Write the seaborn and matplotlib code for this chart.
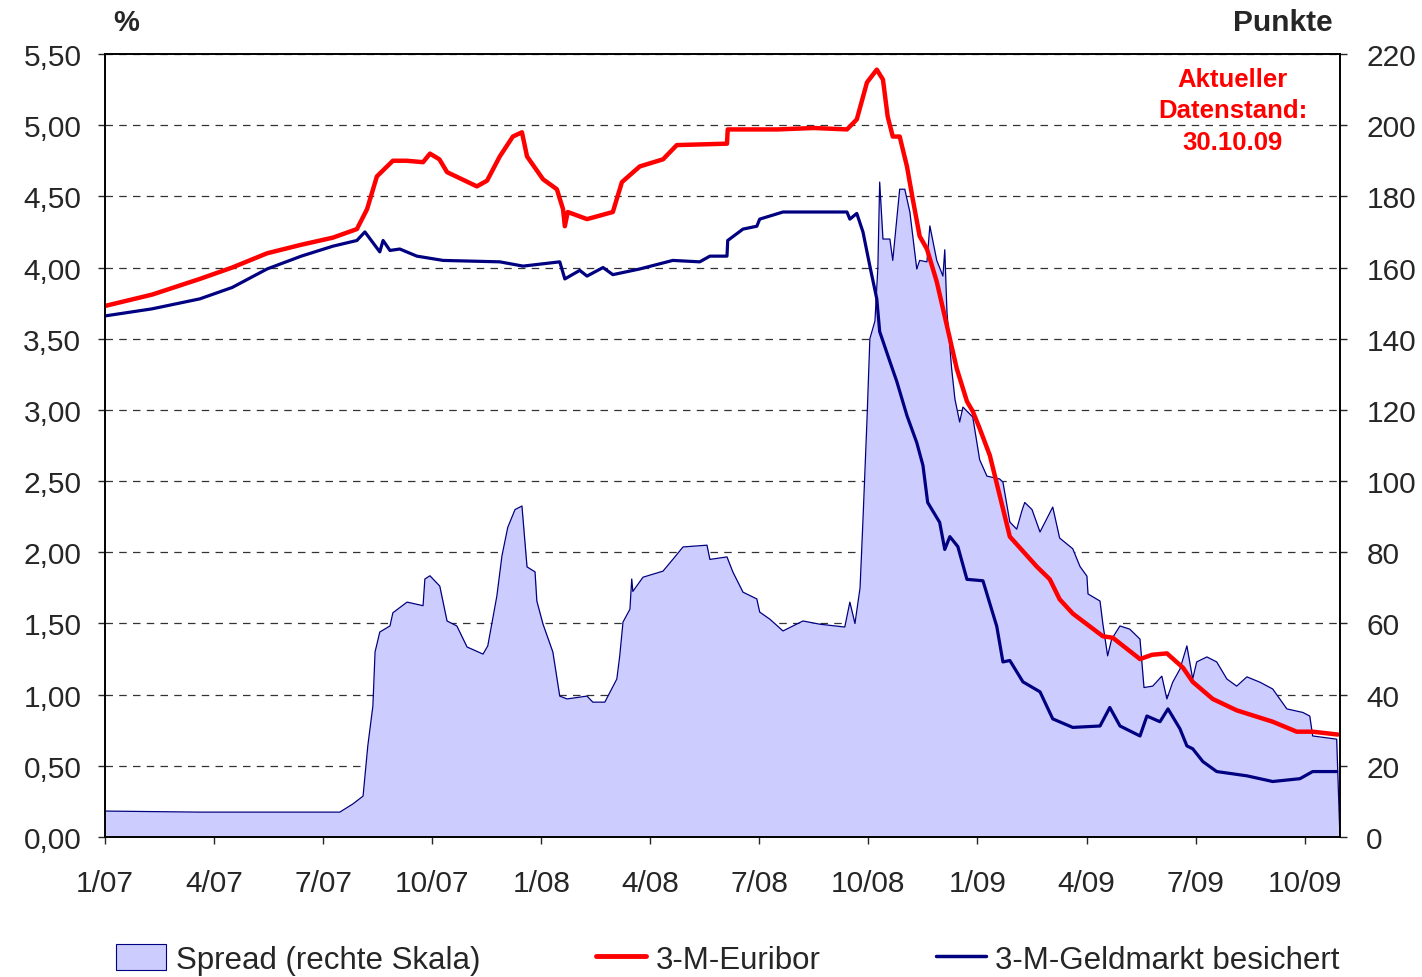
import numpy as np
import pandas as pd
import matplotlib
matplotlib.use("Agg")
from matplotlib import pyplot as plt
from matplotlib.patches import Patch
from matplotlib.lines import Line2D
import seaborn as sns

# x values are months since 1 Jan 2007
x_labels = ['1/07', '4/07', '7/07', '10/07', '1/08', '4/08', '7/08', '10/08', '1/09', '4/09', '7/09', '10/09']
pct_labels = ['0,00', '0,50', '1,00', '1,50', '2,00', '2,50', '3,00', '3,50', '4,00', '4,50', '5,00', '5,50']
pkt_labels = ['0', '20', '40', '60', '80', '100', '120', '140', '160', '180', '200', '220']

euribor_t = [0.00, 1.30, 2.61, 3.50, 4.46, 5.40, 6.27, 6.93, 7.21, 7.48, 7.92, 8.30, 8.75, 8.94, 9.20, 9.41,
             10.23, 10.51, 10.86, 11.22, 11.47, 11.61, 12.05, 12.43, 12.60, 12.65, 12.73, 13.26, 13.97,
             14.22, 14.71, 15.35, 15.73, 17.11, 17.13, 18.50, 19.50, 20.41, 20.68, 20.96, 21.23, 21.40,
             21.53, 21.67, 21.86, 22.06, 22.22, 22.41, 22.61, 22.88, 23.16, 23.43, 23.71, 23.87, 24.06,
             24.34, 24.61, 24.89, 25.63, 25.99, 26.26, 26.62, 27.45, 27.72, 28.47, 28.80, 29.21, 29.65,
             29.92, 30.47, 31.13, 32.12, 32.78, 33.22, 33.91]
euribor = [3.73, 3.81, 3.92, 4.00, 4.10, 4.16, 4.21, 4.27, 4.41, 4.64, 4.75, 4.75, 4.74, 4.80, 4.76, 4.67,
           4.57, 4.61, 4.78, 4.92, 4.95, 4.78, 4.62, 4.55, 4.41, 4.29, 4.39, 4.34, 4.39,
           4.60, 4.71, 4.76, 4.86, 4.87, 4.97, 4.97, 4.98, 4.97, 5.04, 5.30, 5.39, 5.32,
           5.06, 4.92, 4.92, 4.71, 4.48, 4.22, 4.13, 3.90, 3.59, 3.29, 3.06, 2.99, 2.87,
           2.68, 2.40, 2.11, 1.90, 1.81, 1.67, 1.57, 1.41, 1.40, 1.25, 1.28, 1.29, 1.19,
           1.09, 0.97, 0.89, 0.81, 0.74, 0.74, 0.72]

geld_t = [0.00, 1.30, 2.61, 3.50, 4.46, 5.40, 6.27, 6.93, 7.15, 7.56, 7.65, 7.84, 8.11, 8.58, 9.30, 10.86,
          11.50, 12.51, 12.65, 13.06, 13.26, 13.70, 13.97, 14.71, 15.62, 16.36, 16.64, 17.11, 17.13,
          17.55, 17.93, 18.01, 18.65, 20.41, 20.49, 20.68, 20.85, 21.04, 21.23, 21.31, 21.59, 21.78,
          22.06, 22.33, 22.50, 22.63, 22.96, 23.10, 23.24, 23.46, 23.71, 24.15, 24.53, 24.70, 24.89,
          25.25, 25.72, 26.07, 26.62, 27.37, 27.64, 27.92, 28.47, 28.66, 29.02, 29.24, 29.57, 29.76,
          29.92, 30.20, 30.58, 31.41, 32.12, 32.87, 33.22, 33.88]
geld = [3.66, 3.71, 3.78, 3.86, 3.99, 4.08, 4.15, 4.19, 4.25, 4.11, 4.19, 4.12, 4.13, 4.08, 4.05, 4.04,
        4.01, 4.04, 3.92, 3.98, 3.94, 4.00, 3.95, 3.99, 4.05, 4.04, 4.08, 4.08, 4.19,
        4.27, 4.29, 4.34, 4.39, 4.39, 4.34, 4.38, 4.25, 4.01, 3.78, 3.55, 3.34, 3.20,
        2.96, 2.77, 2.61, 2.35, 2.21, 2.02, 2.11, 2.04, 1.81, 1.80, 1.48, 1.23, 1.24,
        1.09, 1.02, 0.83, 0.77, 0.78, 0.91, 0.78, 0.71, 0.85, 0.81, 0.90, 0.76, 0.64,
        0.62, 0.53, 0.46, 0.43, 0.39, 0.41, 0.46, 0.46]

spread_t = [0.00, 2.61, 4.81, 6.46, 6.82, 7.10, 7.23, 7.37, 7.43, 7.56, 7.84, 7.92, 8.31, 8.75, 8.80, 8.94,
            9.21, 9.41, 9.68, 9.96, 10.40, 10.53, 10.78, 10.92, 11.08, 11.28, 11.47, 11.61, 11.83, 11.88,
            12.05, 12.32, 12.51, 12.71, 13.26, 13.42, 13.75, 14.08, 14.16, 14.25, 14.44, 14.49, 14.52,
            14.80, 15.35, 15.62, 15.90, 16.56, 16.64, 17.11, 17.27, 17.55, 17.93, 18.01, 18.29, 18.65,
            19.20, 19.66, 20.35, 20.49, 20.63, 20.77, 20.85, 20.96, 21.04, 21.18, 21.26, 21.31, 21.40,
            21.59, 21.67, 21.86, 22.00, 22.14, 22.33, 22.41, 22.61, 22.69, 22.88, 23.05, 23.10, 23.16,
            23.29, 23.38, 23.51, 23.60, 23.87, 24.06, 24.26, 24.61, 24.70, 24.89, 25.08, 25.22, 25.30,
            25.50, 25.72, 26.07, 26.26, 26.62, 26.82, 27.01, 27.04, 27.37, 27.45, 27.58, 27.69, 27.92,
            28.19, 28.47, 28.58, 28.82, 29.07, 29.21, 29.37, 29.57, 29.76, 29.92, 30.03, 30.31, 30.58,
            30.86, 31.13, 31.41, 31.77, 32.12, 32.51, 32.95, 33.14, 33.22, 33.88, 33.97]
spread = [7.3, 7.0, 7.0, 7.0, 9.3, 11.5, 25.6, 36.8, 52.0, 57.6, 59.3, 63.0, 66.0, 65.0, 72.5, 73.4,
          70.5, 60.7, 59.3, 53.4, 51.4, 53.7, 67.7, 79.0, 87.0, 92.0, 93.0, 75.9, 74.5, 66.3,
          59.8, 52.0, 39.6, 38.8, 39.6, 37.9, 37.9, 44.4, 50.9, 60.4, 64.0, 72.5, 69.0,
          73.0, 74.7, 78.0, 81.5, 82.0, 78.0, 78.7, 74.5, 68.8, 66.9, 63.2, 61.2, 57.9,
          60.7, 59.8, 59.0, 66.0, 60.0, 70.0, 89.0, 117.0, 140.0, 145.0, 160.0, 184.0, 168.0,
          168.0, 162.0, 182.0, 182.0, 175.6, 159.6, 162.0, 161.6, 171.7, 162.0, 157.6, 165.0, 147.5,
          131.5, 123.0, 116.6, 120.8, 118.0, 106.0, 101.4, 100.6, 99.7, 88.5, 86.5, 91.6, 94.0,
          92.0, 85.7, 92.7, 84.0, 81.0, 76.0, 73.3, 68.3, 66.3, 59.8, 50.9, 55.6, 59.3,
          58.4, 55.6, 42.0, 42.4, 45.2, 38.8, 43.5, 47.2, 53.7, 44.4, 49.2, 50.6, 49.2,
          44.4, 42.4, 45.0, 43.5, 41.6, 36.0, 35.0, 34.0, 28.4, 27.5, 0.0]

df_eur = pd.DataFrame({'t': euribor_t, 'v': euribor})
df_geld = pd.DataFrame({'t': geld_t, 'v': geld})
df_spread = pd.DataFrame({'t': spread_t, 'v': spread})

sns.set_style("white")
plt.rcParams['font.family'] = ['Liberation Sans', 'DejaVu Sans']

fig = plt.figure(figsize=(14.22, 9.78), dpi=100)
ax = fig.add_axes([0.0738, 0.1431, 0.8685, 0.8007])
ax2 = ax.twinx()

# spread on right scale, drawn under the rate lines
ax2.fill_between(df_spread.t, df_spread.v, color='#CCCCFF', lw=0, zorder=1)
sns.lineplot(data=df_spread, x='t', y='v', ax=ax2, color='#000080', lw=0.9, zorder=2)
ax2.set_ylim(0, 220)
ax2.set_yticks(range(0, 221, 20))
ax2.set_yticklabels(pkt_labels)
ax2.set_axisbelow(True)
ax2.yaxis.grid(True, color='black', ls=(0, (6, 5)), lw=0.9, alpha=0.8)
ax2.set_ylabel('')

ax.set_zorder(ax2.get_zorder() + 1)
ax.patch.set_visible(False)
sns.lineplot(data=df_geld, x='t', y='v', ax=ax, color='#000080', lw=2.3)
sns.lineplot(data=df_eur, x='t', y='v', ax=ax, color='#FF0000', lw=3.2)
ax.set_ylim(0, 5.5)
ax.set_yticks(np.arange(0, 5.51, 0.5))
ax.set_yticklabels(pct_labels)
ax.set_xlim(0, 33.97)
ax.set_xticks(range(0, 34, 3))
ax.set_xticklabels(x_labels)
ax.set_xlabel('')
ax.set_ylabel('')
ax.grid(False)

for a in (ax, ax2):
    for s in a.spines.values():
        s.set_color('black')
        s.set_linewidth(1.2)
ax.tick_params(axis='y', direction='out', length=5, width=1, pad=12, labelsize=21.5, left=True)
ax.tick_params(axis='x', direction='out', length=5, width=1, pad=18, labelsize=21.5, bottom=True)
ax2.tick_params(axis='y', direction='out', length=5, width=1, pad=14, labelsize=21.5, right=True)

fig.text(0.089, 0.976, '%', fontsize=21, fontweight='bold', ha='center', va='center')
fig.text(0.937, 0.976, 'Punkte', fontsize=21.5, fontweight='bold', ha='right', va='center')
ax.text(0.913, 0.928, 'Aktueller\nDatenstand:\n30.10.09', transform=ax.transAxes, color='#FF0000',
        fontsize=18.5, fontweight='bold', ha='center', va='center', linespacing=1.4)

handles = [Patch(facecolor='#CCCCFF', edgecolor='#000080', lw=0.8),
           Line2D([], [], color='#FF0000', lw=3.5),
           Line2D([], [], color='#000080', lw=2.5)]
fig.legend(handles, ['Spread (rechte Skala)', '3-M-Euribor', '3-M-Geldmarkt besichert'],
           loc='center', bbox_to_anchor=(0.512, 0.018), ncol=3, frameon=False, fontsize=22.5,
           handlelength=1.6, handletextpad=0.3, columnspacing=3.7, handleheight=0.9)

fig.savefig('out.png', dpi=100)
